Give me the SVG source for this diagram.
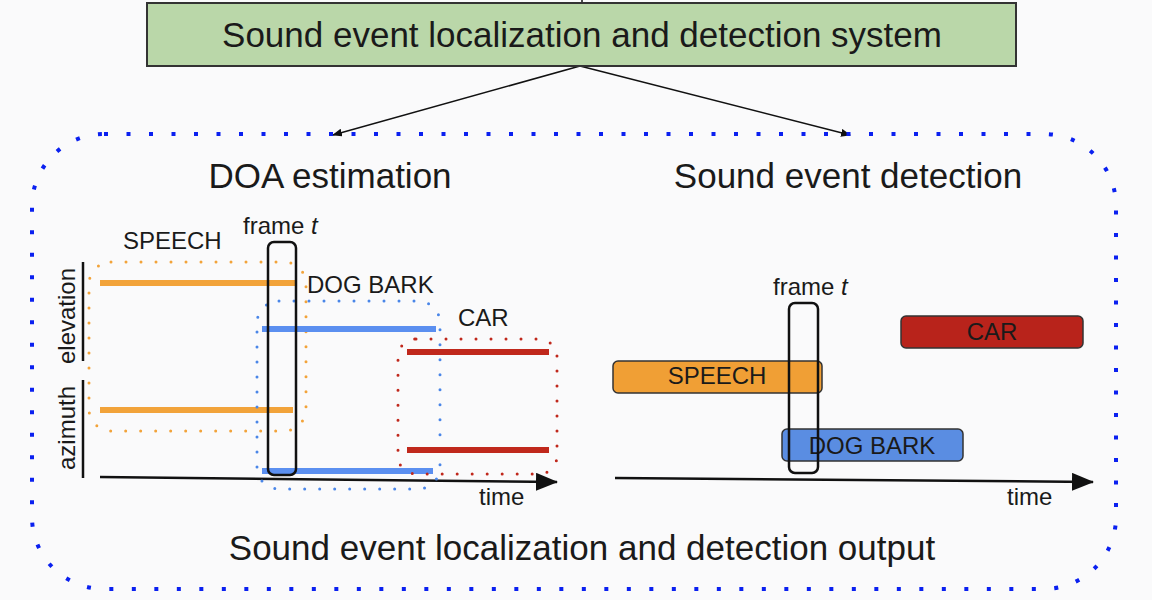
<svg xmlns="http://www.w3.org/2000/svg" width="1152" height="600" viewBox="0 0 1152 600">
<style>
text{font-family:"Liberation Sans",Arial,sans-serif;fill:#1a1a1a}
.t35{font-size:35px}
.lbl{font-size:24px}
.ax{stroke:#111;stroke-width:2.5;fill:none}
.frame{fill:none;stroke:#111;stroke-width:2.5}
.or{stroke:#f2a33a;stroke-width:6}
.bl{stroke:#5b8ff0;stroke-width:6}
.rd{stroke:#c0281c;stroke-width:6}
.dot{fill:none;stroke-width:3;stroke-linecap:round;stroke-dasharray:0 15}
.box{stroke:#333;stroke-width:1.5}
</style>
<defs>
<marker id="ah" markerWidth="10" markerHeight="8" refX="9" refY="4" orient="auto" markerUnits="userSpaceOnUse">
<path d="M0,0 L10,4 L0,8 Z" fill="#111"/>
</marker>
<marker id="big" markerWidth="22" markerHeight="18" refX="21" refY="9" orient="auto" markerUnits="userSpaceOnUse">
<path d="M0,0 L22,9 L0,18 Z" fill="#111"/>
</marker>
</defs>
<rect width="1152" height="600" fill="#fafafb"/>

<g id="connectors">
<line x1="582" y1="0" x2="582" y2="3" stroke="#111" stroke-width="1.5"/>
<line x1="580" y1="66" x2="333" y2="135" stroke="#111" stroke-width="1.5" marker-end="url(#ah)"/>
<line x1="580" y1="66" x2="850" y2="135" stroke="#111" stroke-width="1.5" marker-end="url(#ah)"/>
</g>

<g id="system">
<rect x="147" y="3" width="869" height="63" fill="#bad7a9" stroke="#333" stroke-width="2"/>
<text class="t35" x="582" y="47" text-anchor="middle">Sound event localization and detection system</text>
</g>

<g id="output">
<rect x="32" y="134" width="1084" height="455" rx="72" ry="72" fill="none" stroke="#0a20f0" stroke-width="4" stroke-dasharray="4 18.5"/>
<text class="t35" x="582" y="560" text-anchor="middle">Sound event localization and detection output</text>
</g>

<g id="doa">
<text class="t35" x="330" y="188" text-anchor="middle">DOA estimation</text>
<line x1="83" y1="262" x2="83" y2="361" stroke="#111" stroke-width="2.5"/>
<line x1="83" y1="380" x2="83" y2="478" stroke="#111" stroke-width="2.5"/>
<text class="lbl" transform="translate(75,316) rotate(-90)" text-anchor="middle">elevation</text>
<text class="lbl" transform="translate(75,428) rotate(-90)" text-anchor="middle">azimuth</text>
<path class="ax" d="M100,477 L557,482" marker-end="url(#big)"/>
<text class="lbl" x="479" y="505">time</text>
<!-- speech -->
<rect class="dot" x="89" y="262" width="217" height="169" rx="22" stroke="#f2a33a"/>
<line class="or" x1="100" y1="283" x2="295" y2="283"/>
<line class="or" x1="100" y1="410" x2="293" y2="410"/>
<text class="lbl" x="123" y="249">SPEECH</text>
<!-- dog -->
<rect class="dot" x="257" y="301" width="183" height="188" rx="22" stroke="#4a86e8"/>
<line class="bl" x1="262" y1="329" x2="436" y2="329"/>
<line class="bl" x1="262" y1="471" x2="433" y2="471"/>
<text class="lbl" x="307" y="293">DOG BARK</text>
<!-- car -->
<rect class="dot" x="398" y="339" width="159" height="135" rx="18" stroke="#c0281c"/>
<line class="rd" x1="407" y1="352" x2="549" y2="352"/>
<line class="rd" x1="407" y1="450" x2="549" y2="450"/>
<text class="lbl" x="458" y="326">CAR</text>
<!-- frame -->
<rect class="frame" x="268" y="242" width="28" height="233" rx="6"/>
<text class="lbl" x="243" y="234">frame <tspan font-style="italic">t</tspan></text>
</g>

<g id="sed">
<text class="t35" x="848" y="188" text-anchor="middle">Sound event detection</text>
<path class="ax" d="M615,478 L1093,482" marker-end="url(#big)"/>
<text class="lbl" x="1007" y="505">time</text>
<rect class="box" x="901" y="316" width="182" height="32" rx="5" fill="#b8231b"/>
<text class="lbl" x="992" y="340" text-anchor="middle">CAR</text>
<rect class="box" x="613" y="361" width="209" height="32" rx="5" fill="#f09f35"/>
<text class="lbl" x="717" y="384" text-anchor="middle">SPEECH</text>
<rect class="box" x="782" y="429" width="181" height="32" rx="5" fill="#5a8de2"/>
<text class="lbl" x="872" y="454" text-anchor="middle">DOG BARK</text>
<rect class="frame" x="789" y="303" width="29" height="170" rx="6"/>
<text class="lbl" x="773" y="295">frame <tspan font-style="italic">t</tspan></text>
</g>
</svg>
